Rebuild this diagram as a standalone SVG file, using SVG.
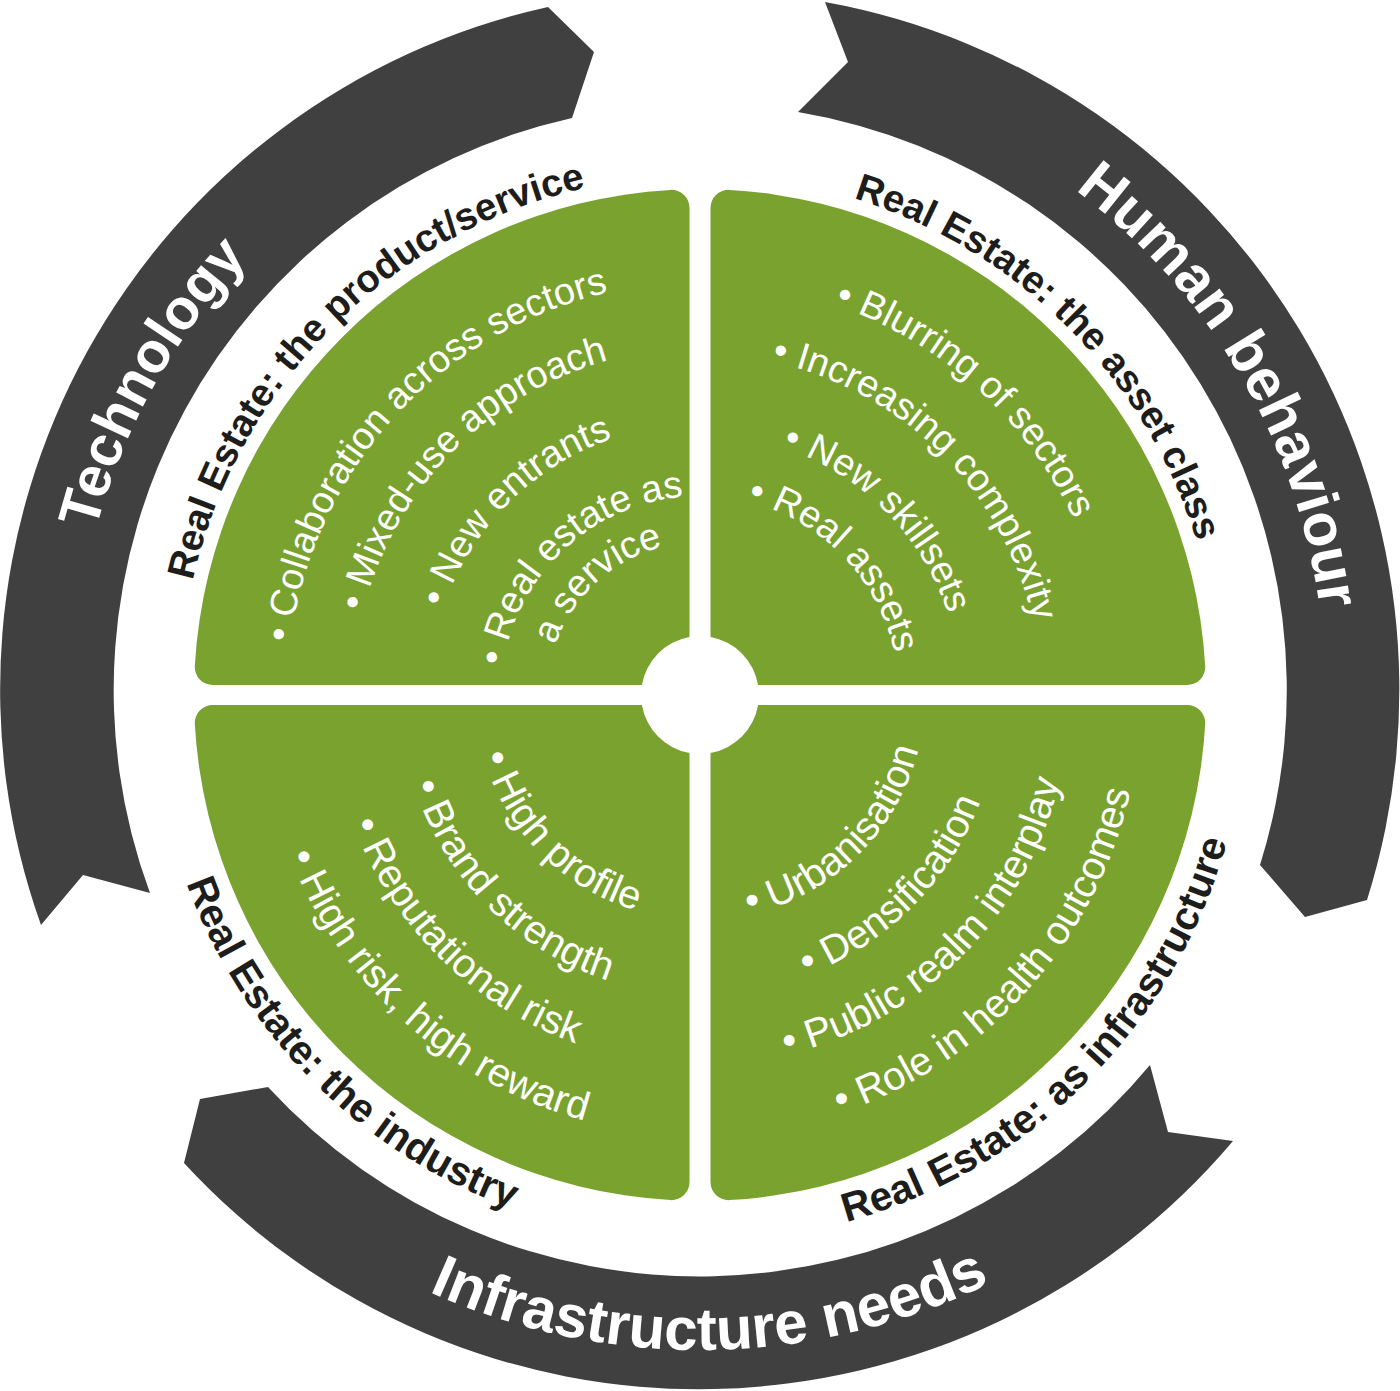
<svg xmlns="http://www.w3.org/2000/svg" width="1400" height="1391" viewBox="0 0 1400 1391">
<style>
.ring{fill:#404040}
.quad{fill:#7aa22f}
.item{font-family:"Liberation Sans",Arial,Helvetica,sans-serif;fill:#ffffff}
.top{font-size:38px}
.bot{font-size:40px}
.lab{font-family:"Liberation Sans",Arial,Helvetica,sans-serif;font-weight:bold;fill:#1d1d1b}
.big{font-family:"Liberation Sans",Arial,Helvetica,sans-serif;font-weight:bold;fill:#ffffff}
</style>
<defs>
<path id="cw413" d="M413,0 A413,413 0 0 1 -406.72,71.70"/>
<path id="cw347" d="M347,0 A347,347 0 0 1 -341.73,60.24"/>
<path id="cw341" d="M341,0 A341,341 0 0 1 -335.82,59.20"/>
<path id="cw271" d="M271,0 A271,271 0 0 1 -266.88,47.05"/>
<path id="cw261" d="M261,0 A261,261 0 0 1 -257.03,45.31"/>
<path id="cw199" d="M199,0 A199,199 0 0 1 -195.98,34.55"/>
<path id="cw153" d="M153,0 A153,153 0 0 1 -150.67,26.56"/>
<path id="ccw225" d="M225,0 A225,225 0 0 0 -221.58,-39.06"/>
<path id="ccw300" d="M300,0 A300,300 0 0 0 -295.44,-52.08"/>
<path id="ccw370" d="M370,0 A370,370 0 0 0 -364.38,-64.23"/>
<path id="ccw441" d="M441,0 A441,441 0 0 0 -434.30,-76.56"/>
<path id="cwc520" d="M45.32,-518.02 A520,520 0 0 1 45.32,518.02"/>
<path id="cwc625" d="M54.48,-622.62 A625,625 0 0 1 54.48,622.62"/>
<path id="ccwc547" d="M47.68,544.92 A547,547 0 0 0 47.68,-544.92"/>
<path id="ccwc660" d="M57.53,657.49 A660,660 0 0 0 57.53,-657.49"/>
</defs>
<rect width="1400" height="1391" fill="#ffffff"/>

<g id="arrows">
<g id="arrow-technology">
<path class="ring" d="M41,925 A699,699 0 0 1 548,7 L594,52 L572,118 A586,586 0 0 0 150,893 L83,875 Z"/>
<text class="big" font-size="57" text-anchor="middle" transform="translate(700,690) rotate(209.25)"><textPath href="#cwc625" startOffset="50%">Technology</textPath></text>
</g>
<g id="arrow-human-behaviour">
<path class="ring" d="M825,2 A699,699 0 0 1 1367,900 L1305,917 L1260,865 A586,586 0 0 0 798,112 L848,62 Z"/>
<text class="big" font-size="59" text-anchor="middle" transform="translate(700,690) rotate(329.7)"><textPath href="#cwc625" startOffset="50%">Human behaviour</textPath></text>
</g>
<g id="arrow-infrastructure-needs">
<path class="ring" d="M1233,1141 A699,699 0 0 1 184,1163 L200,1099 L268,1087 A586,586 0 0 0 1150,1065 L1168,1132 Z"/>
<text class="big" font-size="60" text-anchor="middle" transform="translate(700,690) rotate(89.1)"><textPath href="#ccwc660" startOffset="50%">Infrastructure needs</textPath></text>
</g>
</g>

<g id="quadrant-product-service">
<path class="quad" d="M689.5,207.8 L689.5,636.9 A59,59 0 0 0 641.9,685 L212.8,685 A18,18 0 0 1 194.8,666 A506,506 0 0 1 670.5,189.9 A18,18 0 0 1 689.5,207.8 Z"/>
<text class="lab" font-size="38.5" text-anchor="middle" transform="translate(700,695) rotate(225)"><textPath href="#cwc520" startOffset="50%">Real Estate: the product/service</textPath></text>
<text class="item top" transform="translate(700,695) rotate(187.3)"><textPath href="#cw413">• Collaboration across sectors</textPath></text>
<text class="item top" transform="translate(700,695) rotate(193.9)"><textPath href="#cw347">• Mixed-use approach</textPath></text>
<text class="item top" transform="translate(700,695) rotate(198.75)"><textPath href="#cw271">• New entrants</textPath></text>
<text class="item top" transform="translate(700,695) rotate(188.4)"><textPath href="#cw199">• Real estate as</textPath></text>
<text class="item top" transform="translate(700,695) rotate(199)"><textPath href="#cw153">a service</textPath></text>
</g>

<g id="quadrant-asset-class">
<path class="quad" transform="matrix(-1 0 0 1 1400 0)" d="M689.5,207.8 L689.5,636.9 A59,59 0 0 0 641.9,685 L212.8,685 A18,18 0 0 1 194.8,666 A506,506 0 0 1 670.5,189.9 A18,18 0 0 1 689.5,207.8 Z"/>
<text class="lab" font-size="38.5" text-anchor="middle" transform="translate(700,695) rotate(315)"><textPath href="#cwc520" startOffset="50%">Real Estate: the asset class</textPath></text>
<text class="item top" transform="translate(700,695) rotate(289)"><textPath href="#cw413">• Blurring of sectors</textPath></text>
<text class="item top" transform="translate(700,695) rotate(282.1)"><textPath href="#cw341">• Increasing complexity</textPath></text>
<text class="item top" transform="translate(700,695) rotate(288.4)"><textPath href="#cw261">• New skillsets</textPath></text>
<text class="item top" transform="translate(700,695) rotate(283.8)"><textPath href="#cw199">• Real assets</textPath></text>
</g>

<g id="quadrant-industry">
<path class="quad" transform="matrix(1 0 0 -1 0 1390)" d="M689.5,207.8 L689.5,636.9 A59,59 0 0 0 641.9,685 L212.8,685 A18,18 0 0 1 194.8,666 A506,506 0 0 1 670.5,189.9 A18,18 0 0 1 689.5,207.8 Z"/>
<text class="lab" font-size="40.5" text-anchor="middle" transform="translate(700,695) rotate(135)"><textPath href="#ccwc547" startOffset="50%">Real Estate: the industry</textPath></text>
<text class="item bot" transform="translate(700,695) rotate(164.5)"><textPath href="#ccw225">• High profile</textPath></text>
<text class="item bot" transform="translate(700,695) rotate(162.75)"><textPath href="#ccw300">• Brand strength</textPath></text>
<text class="item bot" transform="translate(700,695) rotate(159.75)"><textPath href="#ccw370">• Reputational risk</textPath></text>
<text class="item bot" transform="translate(700,695) rotate(158.7)"><textPath href="#ccw441">• High risk, high reward</textPath></text>
</g>

<g id="quadrant-infrastructure">
<path class="quad" transform="matrix(-1 0 0 -1 1400 1390)" d="M689.5,207.8 L689.5,636.9 A59,59 0 0 0 641.9,685 L212.8,685 A18,18 0 0 1 194.8,666 A506,506 0 0 1 670.5,189.9 A18,18 0 0 1 689.5,207.8 Z"/>
<text class="lab" font-size="40.5" text-anchor="middle" transform="translate(700,695) rotate(45)"><textPath href="#ccwc547" startOffset="50%">Real Estate: as infrastructure</textPath></text>
<text class="item bot" transform="translate(700,695) rotate(77.56)"><textPath href="#ccw225">• Urbanisation</textPath></text>
<text class="item bot" transform="translate(700,695) rotate(69.3)"><textPath href="#ccw300">• Densification</textPath></text>
<text class="item bot" transform="translate(700,695) rotate(76.6)"><textPath href="#ccw370">• Public realm interplay</textPath></text>
<text class="item bot" transform="translate(700,695) rotate(71.6)"><textPath href="#ccw441">• Role in health outcomes</textPath></text>
</g>
</svg>
